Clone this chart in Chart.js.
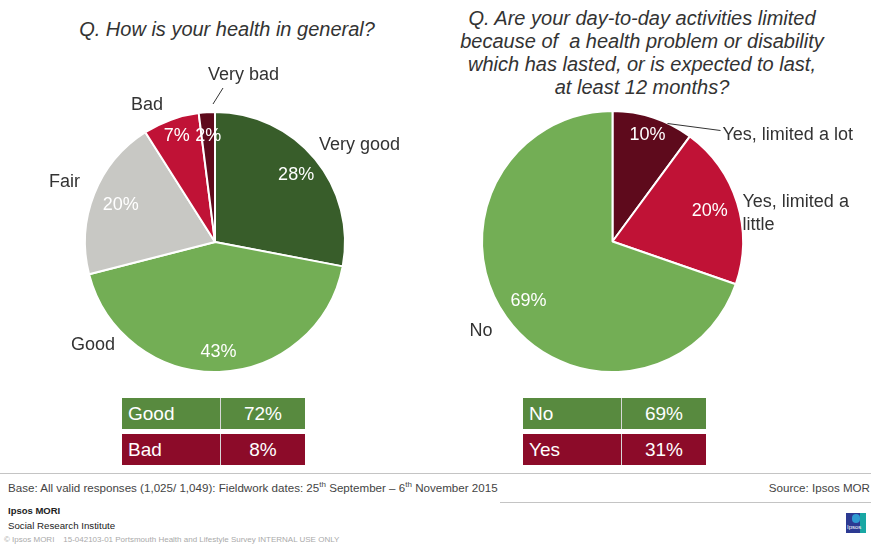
<!DOCTYPE html>
<html>
<head>
<meta charset="utf-8">
<script src="https://cdn.jsdelivr.net/npm/chart.js@4"></script>
<style>
  body { margin: 0; width: 871px; height: 548px; position: relative; background: #fff; overflow: hidden;
         font-family: "Liberation Sans", Arial, sans-serif; color: #333; }
  canvas { position: absolute; top: 0; }
  .title { position: absolute; font-style: italic; font-size: 20px; line-height: 23px; text-align: center; color: #333; }
  .net { position: absolute; }
  .net .row { display: flex; height: 31px; margin-bottom: 5px; color: #fff; font-size: 19px; line-height: 31px; }
  .net .name { padding-left: 6px; box-sizing: border-box; border-right: 1px solid #d8d8d8; }
  .net .val { text-align: center; }
  .rule { position: absolute; height: 1px; background: #c4c4c4; }
  .foot { position: absolute; white-space: nowrap; }
  sup { font-size: 8px; vertical-align: 5px; line-height: 0; }
</style>
</head>
<body>

<div class="title" style="left:27px;top:18px;width:400px;">Q. How is your health in general?</div>
<div class="title" style="left:432px;top:7px;width:420px;">Q. Are your day-to-day activities limited<br>because of&nbsp; a health problem or disability<br>which has lasted, or is expected to last,<br>at least 12 months?</div>

<canvas id="healthChart" width="435" height="390" style="left:0;"></canvas>
<canvas id="limitChart" width="435" height="390" style="left:436px;"></canvas>

<div id="healthNet" class="net" style="left:122px;top:398px;"></div>
<div id="limitNet" class="net" style="left:523px;top:398px;"></div>

<div class="rule" style="left:0;top:473px;width:871px;"></div>
<div class="rule" style="left:500px;top:502px;width:371px;"></div>
<div class="foot" style="left:8px;top:481px;font-size:11.6px;color:#444;">Base: All valid responses (1,025/ 1,049): Fieldwork dates: 25<sup>th</sup> September – 6<sup>th</sup> November 2015</div>
<div class="foot" style="right:1px;top:481px;font-size:11.6px;color:#444;">Source: Ipsos MOR</div>
<div class="foot" style="left:8px;top:505px;font-size:9.5px;font-weight:bold;color:#222;">Ipsos MORI</div>
<div class="foot" style="left:8px;top:520px;font-size:9.7px;color:#222;">Social Research Institute</div>
<div class="foot" style="left:4px;top:535px;font-size:8px;color:#aaa;">© Ipsos MORI &nbsp;&nbsp; 15-042103-01 Portsmouth Health and Lifestyle Survey INTERNAL USE ONLY</div>

<!-- small Ipsos badge -->
<div style="position:absolute;left:846px;top:513px;width:20px;height:20px;background:#2c3a92;"></div>
<div style="position:absolute;left:860px;top:513px;width:6px;height:20px;background:#19a7a4;"></div>
<div style="position:absolute;left:852px;top:514px;width:8px;height:9px;border-radius:4px;background:#2f9ad1;"></div>
<div class="foot" style="left:847px;top:524px;font-size:6px;color:#fff;">Ipsos</div>

<script>
const healthLabels = ["Very good", "Good", "Fair", "Bad", "Very bad"];
const healthValues = [28, 43, 20, 7, 2];
const healthColors = ["#385d2a", "#73ae55", "#c8c8c4", "#c01236", "#5e0a1c"];

const limitLabels = ["Yes, limited a lot", "Yes, limited a little", "No"];
const limitValues = [10, 20, 69];
const limitColors = ["#5e0a1c", "#c01236", "#73ae55"];

const healthNetLabels = ["Good", "Bad"];
const healthNetValues = [72, 8];
const limitNetLabels = ["No", "Yes"];
const limitNetValues = [69, 31];
const netColors = ["#588a3f", "#8c0b29"];

function wrapText(ctx, text, maxWidth) {
  const words = text.split(" ");
  const lines = [];
  let line = "";
  words.forEach(w => {
    const test = line ? line + " " + w : w;
    if (line && ctx.measureText(test).width > maxWidth) {
      lines.push(line);
      line = w;
    } else {
      line = test;
    }
  });
  lines.push(line);
  return lines;
}

// percentages inside each slice, category names outside
const sliceLabels = {
  id: "sliceLabels",
  afterDatasetsDraw(chart, args, opts) {
    const ctx = chart.ctx;
    const meta = chart.getDatasetMeta(0);
    const values = chart.data.datasets[0].data;
    const names = chart.data.labels;
    ctx.save();
    ctx.textBaseline = "middle";
    meta.data.forEach((arc, i) => {
      const p = arc.getProps(["x", "y", "startAngle", "endAngle", "outerRadius"], true);
      const mid = (p.startAngle + p.endAngle) / 2;
      const r = p.outerRadius * opts.inset[i];
      ctx.font = "18px 'Liberation Sans', Arial";
      ctx.fillStyle = "#fff";
      ctx.textAlign = "center";
      ctx.fillText(values[i] + "%", p.x + Math.cos(mid) * r, p.y + Math.sin(mid) * r);

      const o = opts.outside[i];
      ctx.fillStyle = "#333";
      ctx.textAlign = "left";
      const lines = wrapText(ctx, names[i], o.maxWidth || 999);
      lines.forEach((line, k) => ctx.fillText(line, p.x + o.dx, p.y + o.dy + k * 23));
      if (o.leader) {
        ctx.strokeStyle = "#333";
        ctx.lineWidth = 1;
        ctx.beginPath();
        ctx.moveTo(p.x + o.leader[0], p.y + o.leader[1]);
        ctx.lineTo(p.x + o.leader[2], p.y + o.leader[3]);
        ctx.stroke();
      }
    });
    ctx.restore();
  }
};

function makePie(id, labels, values, colors, padding, labelOpts) {
  new Chart(document.getElementById(id), {
    type: "pie",
    data: {
      labels,
      datasets: [{
        data: values,
        backgroundColor: colors,
        borderColor: "#fff",
        borderWidth: 2
      }]
    },
    options: {
      responsive: false,
      animation: false,
      layout: { padding },
      plugins: {
        legend: { display: false },
        tooltip: { enabled: false },
        sliceLabels: labelOpts
      }
    },
    plugins: [sliceLabels]
  });
}

makePie("healthChart", healthLabels, healthValues, healthColors,
  { left: 84, top: 111, right: 89, bottom: 17 },
  {
    inset: [0.81, 0.85, 0.78, 0.87, 0.82],
    outside: [
      { dx: 104, dy: -97 },
      { dx: -144, dy: 103 },
      { dx: -166, dy: -60 },
      { dx: -84, dy: -137 },
      { dx: -7, dy: -167, leader: [-2, -138, 8, -154] }
    ]
  });

makePie("limitChart", limitLabels, limitValues, limitColors,
  { left: 45, top: 110, right: 127, bottom: 17 },
  {
    inset: [0.86, 0.78, 0.79],
    outside: [
      { dx: 110, dy: -106, leader: [55, -118, 108, -111] },
      { dx: 130, dy: -39, maxWidth: 115 },
      { dx: -143, dy: 90 }
    ]
  });

function renderNet(id, labels, values) {
  const box = document.getElementById(id);
  labels.forEach((label, i) => {
    const row = document.createElement("div");
    row.className = "row";
    row.innerHTML = `
      <div class="name" style="width:99px;background:${netColors[i]}">${label}</div>
      <div class="val" style="width:84px;background:${netColors[i]}">${values[i]}%</div>
    `;
    box.appendChild(row);
  });
}

renderNet("healthNet", healthNetLabels, healthNetValues);
renderNet("limitNet", limitNetLabels, limitNetValues);
</script>
</body>
</html>
